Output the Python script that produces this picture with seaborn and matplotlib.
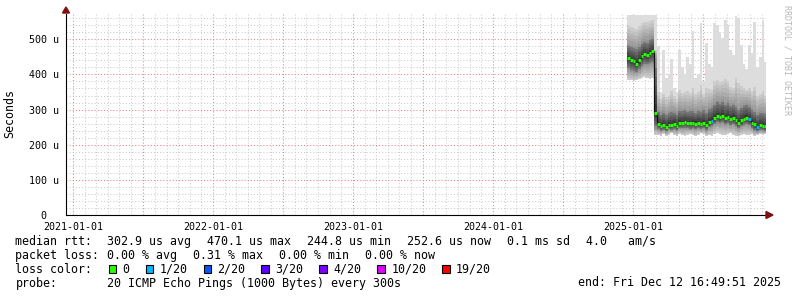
import numpy as np
import pandas as pd
import matplotlib
matplotlib.use("Agg")
import matplotlib.pyplot as plt
import matplotlib.dates as mdates
import matplotlib.ticker as mticker
from matplotlib.patches import Rectangle, Polygon
import seaborn as sns

# ---------------- data (values in microseconds) ----------------
start_date = "2024-12-16"          # first weekly sample
n_weeks = 52
end_time = "2025-12-12 16:49:51"
range_days = 1826                  # 5-year window

median = [446, 440, 438, 430, 440, 452, 458, 455, 462, 466, 290,
          258, 252, 256, 250, 257, 255, 260, 253, 262, 262, 264, 262, 261, 262, 260, 262, 258, 262, 256, 265,
          268, 276, 282, 278, 282, 276, 280, 274, 276, 270, 262, 270, 274, 276, 272, 262, 258, 250, 256, 254, 252]
ping_min = [385, 383, 380, 384, 386, 390, 392, 390, 388, 391, 228,
            228, 226, 230, 225, 228, 232, 227, 224, 230, 228, 226, 229, 231, 227, 225, 229, 232, 230, 226, 228,
            225, 230, 233, 231, 228, 227, 230, 232, 229, 226, 224, 228, 230, 227, 229, 231, 226, 228, 230, 229, 231]
ping_q1 = [412, 408, 405, 404, 410, 418, 425, 424, 428, 430, 245,
           242, 238, 240, 236, 241, 240, 243, 238, 245, 244, 246, 244, 243, 245, 242, 244, 241, 245, 239, 247,
           250, 256, 260, 257, 260, 255, 258, 253, 255, 250, 244, 250, 254, 256, 252, 244, 240, 236, 240, 238, 237]
ping_q3 = [488, 485, 482, 480, 486, 494, 500, 498, 505, 508, 445,
           300, 292, 298, 290, 296, 300, 298, 292, 304, 302, 305, 300, 302, 304, 298, 302, 300, 306, 298, 308,
           312, 322, 328, 325, 330, 322, 326, 318, 320, 314, 305, 312, 318, 320, 315, 305, 300, 292, 298, 296, 294]
ping_p90 = [540, 535, 532, 530, 538, 545, 550, 548, 552, 555, 470,
            350, 330, 345, 335, 340, 352, 338, 330, 356, 348, 350, 352, 348, 362, 345, 350, 370, 345, 360, 358,
            355, 380, 385, 378, 380, 388, 382, 365, 362, 390, 375, 368, 360, 356, 362, 350, 365, 340, 345, 352, 340]
ping_max = [570, 570, 570, 570, 570, 570, 570, 570, 570, 570, 570,
            480, 350, 470, 390, 400, 445, 360, 350, 470, 420, 400, 450, 430, 525, 390, 400, 545, 380, 490, 430,
            420, 545, 540, 520, 505, 555, 540, 470, 455, 565, 560, 485, 430, 415, 485, 460, 550, 420, 450, 555, 435]
loss = [0] * 52
loss[31] = 1
loss[45] = 1
loss[48] = 1

loss_levels = [0, 1, 2, 3, 4, 10, 19]
loss_labels = ["0", "1/20", "2/20", "3/20", "4/20", "10/20", "19/20"]
loss_colors = ["#26ff00", "#00b8ff", "#0059ff", "#5e00ff", "#7e00ff", "#dd00ff", "#ff0000"]

y_ticks = [0, 100, 200, 300, 400, 500]
y_tick_labels = ["0  ", "100 u", "200 u", "300 u", "400 u", "500 u"]

rtt_label = "median rtt:"
rtt_items = ["302.9 us avg", "470.1 us max", "244.8 us min", "252.6 us now", "0.1 ms sd", "4.0   am/s"]
loss_label = "packet loss:"
loss_items = ["0.00 % avg", "0.31 % max", "0.00 % min", "0.00 % now"]
probe_text = "20 ICMP Echo Pings (1000 Bytes) every 300s"
end_text = "end: Fri Dec 12 16:49:51 2025"

# ---------------- figure ----------------
sns.set_style("white")
plt.rcParams["font.family"] = ["DejaVu Sans Mono", "DejaVu Sans"]

W, H = 797, 297
fig = plt.figure(figsize=(W / 100, H / 100), dpi=100)
fig.patch.set_facecolor("white")

def fx(px):
    return px / W

def fy(py):
    return 1 - py / H

X0, X1, Y0, Y1 = 66, 766, 215, 14
ax = fig.add_axes([fx(X0), fy(Y0), (X1 - X0) / W, (Y0 - Y1) / H])
ax.set_facecolor("white")

dates = pd.date_range(start_date, periods=n_weeks, freq="7D")
end = pd.Timestamp(end_time)
edges = np.append(mdates.date2num(dates), mdates.date2num(end))
starts = edges[:-1]
stops = edges[1:]

med = np.array(median, float)
lo = np.array(ping_min, float)
q1 = np.array(ping_q1, float)
q3 = np.array(ping_q3, float)
p90 = np.array(ping_p90, float)
hi = np.array(ping_max, float)

def ext(a):
    return np.append(a, a[-1])

# smoke: outer light band then darker layers toward the median
ax.fill_between(edges, ext(lo), ext(hi), step="post", color="#dddddd", lw=0, zorder=2)
N = 6
for k in range(N):
    t = k / (N - 1)
    lower = lo + (q1 - lo) * t
    upper = p90 + (q3 - p90) * t
    g = 0.80 - 0.22 * t
    ax.fill_between(edges, ext(lower), ext(upper), step="post", color=(g, g, g), lw=0, zorder=3)
M = 5
for k in range(1, M + 1):
    s = k / (M + 1)
    lower = q1 + (med - q1) * s
    upper = q3 + (med - q3) * s
    g = 0.52 - 0.36 * s
    ax.fill_between(edges, ext(lower), ext(upper), step="post", color=(g, g, g), lw=0, zorder=4)

# median line (black connector + loss-coloured segments)
df_med = pd.DataFrame({"t": edges, "rtt": ext(med)})
sns.lineplot(data=df_med, x="t", y="rtt", drawstyle="steps-post", color="#101010",
             lw=0.9, ax=ax, zorder=5, estimator=None, sort=False)
cmap = dict(zip(loss_levels, loss_colors))
seg_colors = [cmap[l] for l in loss]
ax.hlines(med, starts, stops, colors=seg_colors, lw=2.2, zorder=6)

# axes limits and grid
t_end = mdates.date2num(end)
ax.set_xlim(t_end - range_days, t_end)
ax.set_ylim(0, 572)

ax.xaxis.set_major_locator(mdates.MonthLocator(bymonth=[1, 7]))
ax.xaxis.set_minor_locator(mdates.MonthLocator())
ax.xaxis.set_major_formatter(mticker.FuncFormatter(
    lambda v, p: mdates.num2date(v).strftime("%Y-%m-%d") if mdates.num2date(v).month == 1 else ""))
ax.set_yticks(y_ticks)
ax.set_yticklabels(y_tick_labels)
ax.yaxis.set_minor_locator(mticker.MultipleLocator(20))

ax.grid(which="minor", color="#cccccc", ls=(0, (1, 2)), lw=0.75, zorder=1)
ax.grid(which="major", color="#f08080", ls=(0, (1, 2)), lw=0.75, zorder=1)
ax.set_axisbelow(True)

ax.tick_params(axis="both", which="major", length=2, width=0.7, color="black",
               labelsize=7.2, pad=3, direction="out", labelcolor="black")
ax.tick_params(axis="both", which="minor", length=1, width=0.6, color="black")
for lab in ax.get_xticklabels() + ax.get_yticklabels():
    lab.set_family("DejaVu Sans Mono")

for sp in ["top", "right"]:
    ax.spines[sp].set_visible(False)
for sp in ["left", "bottom"]:
    ax.spines[sp].set_color("black")
    ax.spines[sp].set_linewidth(0.8)
    ax.spines[sp].set_zorder(7)
ax.set_xlabel("")
ax.set_ylabel("")

# axis arrows
arrow_col = "#7f1010"
fig.patches.append(Polygon([(fx(766), fy(211.5)), (fx(773), fy(215)), (fx(766), fy(218.5))],
                           closed=True, transform=fig.transFigure, color=arrow_col, zorder=10))
fig.patches.append(Polygon([(fx(62.5), fy(13)), (fx(66), fy(7)), (fx(69.5), fy(13))],
                           closed=True, transform=fig.transFigure, color=arrow_col, zorder=10))

# side texts
fig.text(fx(10), fy(114), "Seconds", rotation=90, ha="center", va="center", fontsize=8.4, color="black")
fig.text(fx(787), fy(60), "RRDTOOL / TOBI OETIKER", rotation=270, ha="center", va="center",
         fontsize=6, color="#b8b8b8")

# legend text
FS = 8.37
CW = 7.0
GAP = 16
row_y = [244.7, 258.7, 272.7, 286.5]

def put(x, row, s):
    fig.text(fx(x - 0.6), fy(row_y[row]), s, ha="left", va="baseline", fontsize=FS, color="black")

put(16, 0, rtt_label)
x = 107.3
for item in rtt_items:
    put(x, 0, item)
    x += len(item) * CW + GAP

put(16, 1, loss_label)
x = 107.3
for item in loss_items:
    put(x, 1, item)
    x += len(item) * CW + GAP

put(16, 2, "loss color:")
x = 108.7
for col, lab in zip(loss_colors, loss_labels):
    fig.patches.append(Rectangle((fx(x), fy(272.7)), 7.5 / W, 7.7 / H, transform=fig.transFigure,
                                 facecolor=col, edgecolor="black", lw=0.8, zorder=10))
    put(x + 14.6, 2, lab)
    x += 14.6 + len(lab) * CW + 15.3

put(16, 3, "probe:")
put(107.3, 3, probe_text)
put(578.3, 3, end_text)

fig.savefig("out.png", dpi=100, facecolor="white")
